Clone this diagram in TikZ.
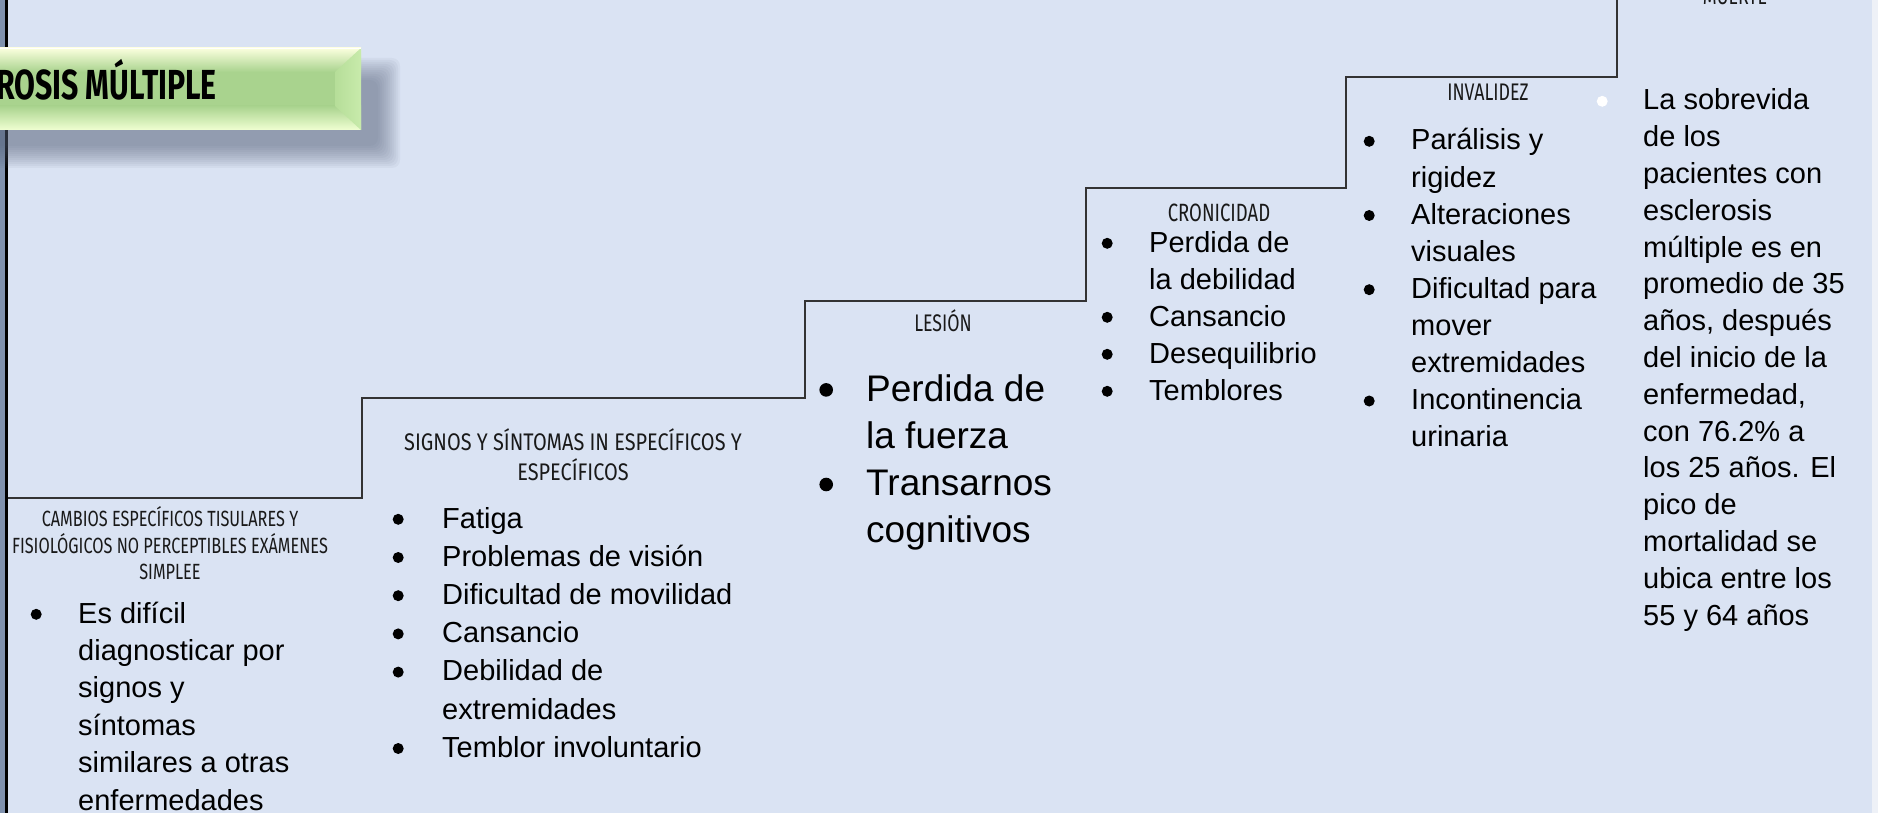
\documentclass[tikz,border=0pt]{standalone}
\usepackage{graphicx}
\usepackage{fontspec}
\setmainfont{Liberation Sans}
\newfontfamily\hand[FakeStretch=0.74]{Fira Sans}
\newfontfamily\handt[FakeStretch=0.72]{Fira Sans}
\definecolor{bg}{HTML}{DAE3F3}
\definecolor{edgec}{HTML}{EEF1F7}
\definecolor{barc}{HTML}{8092AE}
\definecolor{shadowc}{HTML}{56627A}
\definecolor{bantop}{HTML}{FBFFDE}
\definecolor{banmid}{HTML}{A9D38E}
\definecolor{banbot}{HTML}{F0FFD2}
\definecolor{bevl}{HTML}{B6DE99}
\definecolor{bevr}{HTML}{C8EBAB}
\definecolor{stairc}{HTML}{333333}
\newcommand{\bu}[3]{\makebox[#1pt][l]{\makebox[0pt]{\tikz[baseline=0pt]\fill[#2] (0pt,0.3em) circle (#3pt);}}}
\tikzset{
  stair/.style={draw=stairc, line width=1.6pt},
  lst/.style={anchor=base west, inner sep=0pt, text=black},
  hd/.style={anchor=base, inner sep=0pt, text=black!90},
}
\begin{document}
\begin{tikzpicture}[x=1pt,y=-1pt]
\useasboundingbox (0,0) rectangle (1878,813);
\clip (0,0) rectangle (1878,813);
\fill[bg] (0,0) rectangle (1872,813);
\fill[edgec] (1872,0) rectangle (1878,813);
\fill[barc] (0,0) rectangle (4.5,813);
\fill[black] (4.5,0) rectangle (8,813);
% shadow of banner
\foreach \i in {0,...,11}
  \fill[shadowc, opacity=0.06, rounded corners=8pt] (-300-2*\i, 80-2*\i) rectangle (378+2*\i, 146+2*\i);
% banner
\shade[top color=bantop, bottom color=banmid] (-300,48) rectangle (361,72);
\fill[banmid] (-300,72) rectangle (361,106);
\shade[top color=banmid, bottom color=banbot] (-300,106) rectangle (361,130);
\shade[left color=bevl, right color=bevr] (335,72) -- (361,48) -- (361,130) -- (335,106) -- cycle;
\draw[white, line width=1pt] (-300,48.5) -- (361,48.5);
\node[anchor=base east, inner sep=0pt] (title) at (217,100)
  {\handt\bfseries\fontsize{42}{42}\selectfont ESCLEROSIS MÚLTIPLE};
% staircase
\coordinate (s0) at (8,498);
\coordinate (s1) at (362,498);
\coordinate (s2) at (362,398);
\coordinate (s3) at (805,398);
\coordinate (s4) at (805,301);
\coordinate (s5) at (1086,301);
\coordinate (s6) at (1086,188);
\coordinate (s7) at (1346,188);
\coordinate (s8) at (1346,77);
\coordinate (s9) at (1617,77);
\coordinate (s10) at (1617,-5);
\draw[stair] (s0) -- (s1) -- (s2) -- (s3) -- (s4) -- (s5) -- (s6) -- (s7) -- (s8) -- (s9) -- (s10);
% headings
\node[hd] (h1) at (170,526) {\hand\fontsize{22}{26}\selectfont\begin{tabular}[t]{@{}c@{}}CAMBIOS ESPECÍFICOS TISULARES Y\\FISIOLÓGICOS NO PERCEPTIBLES EXÁMENES\\SIMPLEE\end{tabular}};
\node[hd] (h2) at (573,450) {\scalebox{1.12}[1]{\hand\fontsize{24}{28}\selectfont\begin{tabular}[t]{@{}c@{}}SIGNOS Y SÍNTOMAS IN ESPECÍFICOS Y\\ESPECÍFICOS\end{tabular}}};
\node[hd] (h3) at (943,331) {\hand\fontsize{24}{28}\selectfont LESIÓN};
\node[hd] (h4) at (1219,221) {\hand\fontsize{25}{28}\selectfont CRONICIDAD};
\node[hd] (h5) at (1488,101) {\hand\fontsize{24}{28}\selectfont INVALIDEZ};
\node[hd] (h6) at (1735,5) {\hand\fontsize{24}{28}\selectfont MUERTE};
% lists
\node[lst] (l1) at (36,623) {\fontsize{29}{37.4}\selectfont\begin{tabular}[t]{@{}l@{}l@{}}
\bu{42}{black}{5.5} & Es difícil\\
 & diagnosticar por\\
 & signos y\\
 & síntomas\\
 & similares a otras\\
 & enfermedades
\end{tabular}};
\node[lst] (l2) at (398,528) {\fontsize{29}{38.2}\selectfont\begin{tabular}[t]{@{}l@{}l@{}}
\bu{44}{black}{5.5} & Fatiga\\
\bu{44}{black}{5.5} & Problemas de visión\\
\bu{44}{black}{5.5} & Dificultad de movilidad\\
\bu{44}{black}{5.5} & Cansancio\\
\bu{44}{black}{5.5} & Debilidad de\\
 & extremidades\\
\bu{44}{black}{5.5} & Temblor involuntario
\end{tabular}};
\node[lst] (l3) at (826,401) {\fontsize{37}{47.3}\selectfont\begin{tabular}[t]{@{}l@{}l@{}}
\bu{40}{black}{6.8} & Perdida de\\
 & la fuerza\\
\bu{40}{black}{6.8} & Transarnos\\
 & cognitivos
\end{tabular}};
\node[lst] (l4) at (1107,252) {\fontsize{29}{37}\selectfont\begin{tabular}[t]{@{}l@{}l@{}}
\bu{42}{black}{5.5} & Perdida de\\
 & la debilidad\\
\bu{42}{black}{5.5} & Cansancio\\
\bu{42}{black}{5.5} & Desequilibrio\\
\bu{42}{black}{5.5} & Temblores
\end{tabular}};
\node[lst] (l5) at (1369,150) {\fontsize{29}{37.1}\selectfont\begin{tabular}[t]{@{}l@{}l@{}}
\bu{42}{black}{5.5} & Parálisis y\\
 & rigidez\\
\bu{42}{black}{5.5} & Alteraciones\\
 & visuales\\
\bu{42}{black}{5.5} & Dificultad para\\
 & mover\\
 & extremidades\\
\bu{42}{black}{5.5} & Incontinencia\\
 & urinaria
\end{tabular}};
\node[lst] (l6) at (1602,110) {\fontsize{29}{36.8}\selectfont\begin{tabular}[t]{@{}l@{}l@{}}
\bu{41}{white}{5.5} & La sobrevida\\
 & de los\\
 & pacientes con\\
 & esclerosis\\
 & múltiple es en\\
 & promedio de 35\\
 & años, después\\
 & del inicio de la\\
 & enfermedad,\\
 & con 76.2\% a\\
 & los 25 años. El\\
 & pico de\\
 & mortalidad se\\
 & ubica entre los\\
 & 55 y 64 años
\end{tabular}};
\end{tikzpicture}
\end{document}
